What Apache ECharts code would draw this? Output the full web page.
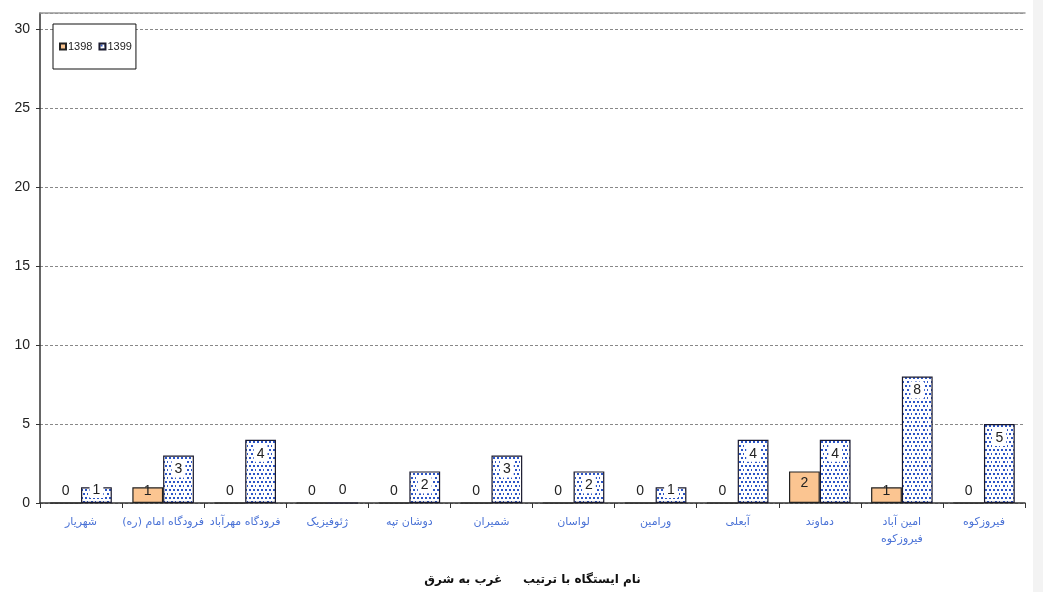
<!DOCTYPE html>
<html>
<head>
<meta charset="utf-8">
<style>
  html, body { margin: 0; padding: 0; background: #ffffff; }
  #chart { width: 1043px; height: 592px; }
  #edge { position: absolute; top: 0; right: 0; width: 10px; height: 592px; background: #f3f3f3; }
</style>
<script src="https://cdn.jsdelivr.net/npm/echarts@6/dist/echarts.min.js"></script>
</head>
<body>
<div id="chart"></div>
<div id="edge"></div>
<script>
// Stations ordered west to east
const stations = [
  'شهریار',
  'فرودگاه امام (ره)',
  'فرودگاه مهرآباد',
  'ژئوفیزیک',
  'دوشان تپه',
  'شمیران',
  'لواسان',
  'ورامین',
  'آبعلی',
  'دماوند',
  'امین آباد\nفیروزکوه',
  'فیروزکوه'
];
const years = ['1398', '1399'];
const values1398 = [0, 1, 0, 0, 0, 0, 0, 0, 0, 2, 1, 0];
const values1399 = [1, 3, 4, 0, 2, 3, 2, 1, 4, 4, 8, 5];
const yTicks = { min: 0, step: 5, top: 30 };
const axisTitle = 'نام ایستگاه با ترتیب     غرب به شرق';

// Dotted fill used for the second year (staggered rows of small square dots)
function dotPattern() {
  const c = document.createElement('canvas');
  c.width = 8; c.height = 8;
  const g = c.getContext('2d');
  g.fillStyle = '#ffffff';
  g.fillRect(0, 0, 8, 8);
  g.fillStyle = '#2d56c8';
  [[1, 1], [5, 1], [3, 5], [7, 5]].forEach(([x, y]) => g.fillRect(x, y, 2, 2));
  return c;
}

// Short bars keep their value just above the baseline; taller ones show it inside the top
function withLabels(values, boxed) {
  return values.map(v => ({
    value: v,
    label: {
      position: v >= 2 ? 'insideTop' : 'insideBottom',
      distance: 5,
      backgroundColor: boxed && v > 0 ? '#ffffff' : 'transparent',
      padding: boxed ? [2, 3, 1, 3] : 0
    }
  }));
}

const labelBase = {
  show: true,
  fontFamily: 'Liberation Sans, Arial, sans-serif',
  fontSize: 14,
  color: '#222222'
};

const chart = echarts.init(document.getElementById('chart'), null, { renderer: 'canvas' });
chart.setOption({
  animation: false,
  backgroundColor: '#ffffff',
  grid: { left: 40, right: 18, top: 13, bottom: 89, outerBoundsMode: 'none', containLabel: false },
  legend: {
    left: 53, top: 24,
    orient: 'horizontal',
    data: years,
    icon: 'rect',
    itemWidth: 6, itemHeight: 6, itemGap: 6,
    padding: [17, 4, 17, 6],
    backgroundColor: '#ffffff',
    borderColor: '#111111',
    borderWidth: 1,
    textStyle: { fontFamily: 'Liberation Sans, Arial, sans-serif', fontSize: 11, color: '#222', padding: [0, 0, 0, -3] }
  },
  xAxis: [{
    type: 'category',
    data: stations,
    axisLine: { lineStyle: { color: '#333333', width: 1.5 } },
    axisTick: { show: true, alignWithLabel: false, length: 5, lineStyle: { color: '#333333' } },
    axisLabel: {
      interval: 0,
      margin: 11,
      fontFamily: 'DejaVu Sans, sans-serif',
      fontSize: 11,
      lineHeight: 17,
      color: '#4a72d6'
    },
    name: axisTitle,
    nameLocation: 'middle',
    nameGap: 71,
    nameTextStyle: { fontFamily: 'DejaVu Sans, sans-serif', fontWeight: 'bold', fontSize: 12, color: '#111111' }
  }, {
    type: 'category',
    position: 'top',
    data: stations,
    axisLine: { show: true, lineStyle: { color: '#999999', width: 1.5 } },
    axisTick: { show: false },
    axisLabel: { show: false }
  }],
  yAxis: {
    type: 'value',
    min: yTicks.min,
    max: yTicks.top + 1,
    interval: yTicks.step,
    axisLine: { show: true, lineStyle: { color: '#333333', width: 1.5 } },
    axisTick: { show: true, length: 4, lineStyle: { color: '#333333' } },
    axisLabel: {
      showMaxLabel: false,
      margin: 10,
      fontFamily: 'Liberation Sans, Arial, sans-serif',
      fontSize: 14,
      color: '#222222'
    },
    splitLine: { show: true, lineStyle: { color: '#888888', type: [3, 2], width: 1 } }
  },
  series: [{
    name: years[0],
    type: 'bar',
    data: withLabels(values1398, false),
    barGap: '0%',
    barCategoryGap: '25%',
    itemStyle: { color: '#fbc591', borderColor: '#222222', borderWidth: 1.2 },
    label: labelBase
  }, {
    name: years[1],
    type: 'bar',
    data: withLabels(values1399, true),
    barGap: '0%',
    barCategoryGap: '25%',
    itemStyle: { color: { image: dotPattern(), repeat: 'repeat' }, borderColor: '#1a1a2e', borderWidth: 1.2 },
    label: labelBase
  }]
});
</script>
</body>
</html>
